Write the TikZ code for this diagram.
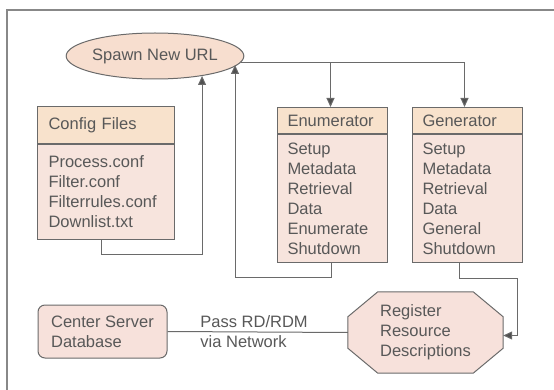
\documentclass[tikz,border=0pt]{standalone}
\usepackage{fontspec}
\setmainfont{Liberation Sans}
\usetikzlibrary{shapes.geometric,arrows.meta,backgrounds}
\definecolor{linec}{HTML}{6A6A6A}
\definecolor{textc}{HTML}{585858}
\definecolor{hdrfill}{HTML}{F8E2CC}
\definecolor{bodyfill}{HTML}{F7E4DD}
\definecolor{ovalfill}{HTML}{F7DECF}
\definecolor{octfill}{HTML}{F7E1DB}
\definecolor{arrc}{HTML}{505050}
\tikzset{
  every node/.style={text=textc, font=\fontsize{16.5}{20}\selectfont},
  hdr/.style={draw=linec, line width=1pt, fill=hdrfill, anchor=north west, align=left, inner xsep=11pt, inner ysep=0pt},
  bodybox/.style={draw=linec, line width=1pt, fill=bodyfill, anchor=north, align=left, inner xsep=11pt, inner ysep=0pt},
  conn/.style={draw=linec, line width=1pt},
  arr/.style={conn, -{Triangle[width=8pt,length=9pt,fill=arrc]}},
}
\begin{document}
\begin{tikzpicture}[x=1pt,y=-1pt]
\useasboundingbox (0,0) rectangle (554,390);
% frame
\draw[draw=linec!80, line width=1.3pt] (7,392) -- (7,10) -- (556,10);

% Spawn ellipse
\node[ellipse, draw=linec, line width=1pt, fill=ovalfill, minimum width=149pt, minimum height=46pt, inner sep=0pt] (spawn) at (155,56) {Spawn New URL};

% Config files
\node[hdr, text width=115pt, minimum height=37pt] (cfgH) at (37,106) {Config Files};
\node[bodybox, text width=115pt, minimum height=95pt] (cfgB) at (cfgH.south) {Process.conf\\Filter.conf\\Filterrules.conf\\Downlist.txt};

% Enumerator
\node[hdr, text width=90pt, minimum height=26pt, inner xsep=10pt] (enH) at (277,107) {Enumerator};
\node[bodybox, text width=90pt, minimum height=128pt, inner xsep=10pt] (enB) at (enH.south) {Setup\\Metadata\\Retrieval\\Data\\Enumerate\\Shutdown};

% Generator
\node[hdr, text width=90pt, minimum height=26pt, inner xsep=10pt] (genH) at (412,107) {Generator};
\node[bodybox, text width=90pt, minimum height=128pt, inner xsep=10pt] (genB) at (genH.south) {Setup\\Metadata\\Retrieval\\Data\\General\\Shutdown};

% Center server
\node[draw=linec, line width=1pt, fill=octfill, rounded corners=7pt, minimum width=129pt, minimum height=53pt, align=left, inner sep=0pt] (csd) at (102.5,331.5) {Center Server\\Database};

% Register octagon
\node[minimum width=155pt, minimum height=81pt, align=left, inner sep=0pt] (reg) at (425.5,332.5) {Register\\Resource\\Descriptions};
\begin{scope}[on background layer]
\draw[draw=linec, line width=1pt, fill=octfill]
  ([xshift=30pt]reg.north west) -- ([xshift=-30pt]reg.north east)
  -- ([yshift=-25pt]reg.north east) -- ([yshift=25pt]reg.south east)
  -- ([xshift=-30pt]reg.south east) -- ([xshift=30pt]reg.south west)
  -- ([yshift=25pt]reg.south west) -- ([yshift=-25pt]reg.north west) -- cycle;
\end{scope}

% connectors
\coordinate (tipE) at (235,65);
\draw[arr] (spawn.-4) -| ([xshift=-3pt]genH.north);
\draw[arr] ([xshift=-2pt]enH.north |- spawn.-4) -- ([xshift=-2pt]enH.north);
\draw[arr] ([xshift=-5pt]cfgB.south) -- ++(0,14) -| (spawn.-23.6);
\draw[arr] ([xshift=-1pt]enB.south) -- ++(0,14) -| (tipE);
\draw[arr] ([xshift=-8pt]genB.south) -- ++(0,15) -- ++(58,0) |- ([yshift=-3pt]reg.east);
\draw[conn] (csd.east) -- node[pos=0.18, anchor=west, align=left, inner sep=0pt] (lbl) {Pass RD/RDM\\via Network} (reg.west);
\end{tikzpicture}
\end{document}
